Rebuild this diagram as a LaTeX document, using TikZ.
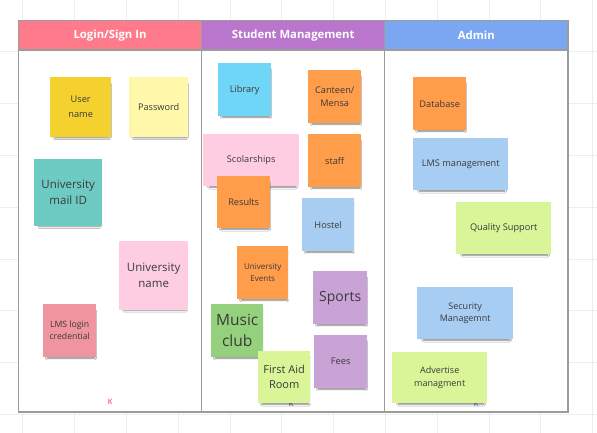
\documentclass[tikz,border=0pt]{standalone}
\usepackage{fontspec}
\setmainfont{Open Sans}
\usetikzlibrary{shadows.blur}

\definecolor{gridline}{HTML}{EDEDED}
\definecolor{framegray}{HTML}{9C9C9C}
\definecolor{notetext}{HTML}{3A3A3A}
\definecolor{hdrlogin}{HTML}{FF7B8C}
\definecolor{hdrstudent}{HTML}{BA76CC}
\definecolor{hdradmin}{HTML}{7BA7F2}
\definecolor{nyellow}{HTML}{F5D130}
\definecolor{nlightyellow}{HTML}{FFF8AA}
\definecolor{nteal}{HTML}{6ECBC3}
\definecolor{ncyan}{HTML}{6FD6F7}
\definecolor{npink}{HTML}{FFCDE1}
\definecolor{norange}{HTML}{FF9D4A}
\definecolor{nlightblue}{HTML}{A8CDF3}
\definecolor{npurple}{HTML}{C9A2D6}
\definecolor{ngreen}{HTML}{95D17D}
\definecolor{nlightgreen}{HTML}{D9F598}
\definecolor{nrose}{HTML}{F0959F}

\tikzset{
  note/.style={anchor=north west, inner sep=0pt, align=center,
    text=notetext, font=\fontsize{9.2}{12.5}\selectfont,
    blur shadow={shadow xshift=1.5pt, shadow yshift=-4pt,
      shadow scale=0.9, shadow blur radius=2pt, shadow opacity=50}},
  bigtext/.style={font=\fontsize{11.5}{16}\selectfont},
  header/.style={text=white, font=\bfseries\fontsize{11.3}{13}\selectfont},
  colmark/.style={font=\bfseries\fontsize{7.5}{8}\selectfont},
}

\begin{document}
\begin{tikzpicture}[x=1pt, y=-1pt]
\useasboundingbox (0,0) rectangle (597,433);
\fill[white] (0,0) rectangle (597,433);

% background grid
\foreach \k in {0,...,11} {
  \draw[gridline, line width=0.8pt] ({22.7+51.8*\k},0) -- ({22.7+51.8*\k},433);
}
\foreach \k in {1,...,8} {
  \draw[gridline, line width=0.8pt] (0,{51.8*\k}) -- (597,{51.8*\k});
}

% board frame with three columns
\fill[white] (18.3,20.7) rectangle (568,412);
\fill[hdrlogin] (18.3,20.7) rectangle (201.7,50);
\fill[hdrstudent] (201.7,20.7) rectangle (384.7,50);
\fill[hdradmin] (384.7,20.7) rectangle (568,50);
\node[header] (hlogin) at (110,35.5) {Login/Sign In};
\node[header] (hstudent) at (293.2,35.5) {Student Management};
\node[header] (hadmin) at (476.3,35.5) {Admin};
\draw[framegray, line width=1.5pt] (18.3,20.7) rectangle (568,412);
\draw[framegray, line width=1.5pt] (18.3,50) -- (568,50);
\draw[framegray, line width=1.5pt] (201.7,20.7) -- (201.7,412);
\draw[framegray, line width=1.5pt] (384.7,20.7) -- (384.7,412);

% column markers at the bottom
\node[colmark, text=hdrlogin] (klogin) at (110,402) {K};
\node[colmark, text=hdrstudent] (kstudent) at (291,404) {K};
\node[colmark, text=hdradmin] (kadmin) at (476,404) {K};

% Login / Sign In
\node[note, fill=nyellow, minimum width=61pt, minimum height=60pt,
  font=\fontsize{9.2}{15}\selectfont] (uname) at (50,77) {User\\name};
\node[note, fill=nlightyellow, minimum width=59pt, minimum height=60pt] (pwd) at (129,77) {Password};
\node[note, bigtext, fill=nteal, minimum width=68pt, minimum height=67pt] (mail) at (34,159) {University\\mail ID};
\node[note, bigtext, fill=npink, minimum width=69pt, minimum height=69pt] (uniname) at (119,241) {University\\name};
\node[note, fill=nrose, minimum width=53pt, minimum height=53pt,
  font=\fontsize{8.7}{12}\selectfont] (lmslogin) at (43,304) {LMS login\\credential};

% Student Management
\node[note, fill=ncyan, minimum width=53pt, minimum height=53pt] (library) at (218,63) {Library};
\node[note, fill=norange, minimum width=53pt, minimum height=53pt] (canteen) at (308,70) {Canteen/\\Mensa};
\node[note, fill=npink, minimum width=96pt, minimum height=52pt] (scol) at (203,134) {Scolarships};
\node[note, fill=norange, minimum width=53pt, minimum height=53pt] (staff) at (308,134) {staff};
\node[note, fill=norange, minimum width=53pt, minimum height=52pt] (results) at (217,176) {Results};
\node[note, fill=nlightblue, minimum width=52pt, minimum height=53pt] (hostel) at (302,198) {Hostel};
\node[note, fill=norange, minimum width=51pt, minimum height=53pt,
  font=\fontsize{8}{11.7}\selectfont] (events) at (237,246) {University\\Events};
\node[note, fill=npurple, minimum width=54pt, minimum height=53pt,
  font=\fontsize{14}{17}\selectfont] (sports) at (313,271) {Sports};
\node[note, fill=ngreen, minimum width=52pt, minimum height=53pt,
  font=\fontsize{15.5}{21}\selectfont] (music) at (211,304) {Music\\club};
\node[note, fill=npurple, minimum width=53pt, minimum height=53pt] (fees) at (314,335) {Fees};
\node[note, fill=nlightgreen, minimum width=52pt, minimum height=52pt,
  font=\fontsize{11}{15}\selectfont] (firstaid) at (258,351) {First Aid\\Room};

% Admin
\node[note, fill=norange, minimum width=53pt, minimum height=53pt] (database) at (413,77) {Database};
\node[note, fill=nlightblue, minimum width=95pt, minimum height=52pt] (lmsmgmt) at (413,138) {LMS management};
\node[note, fill=nlightgreen, minimum width=95pt, minimum height=52pt] (quality) at (456,202) {Quality Support};
\node[note, fill=nlightblue, minimum width=96pt, minimum height=52pt,
  font=\fontsize{9}{11.7}\selectfont] (security) at (417,287) {Security\\Managemnt};
\node[note, fill=nlightgreen, minimum width=95pt, minimum height=51pt,
  font=\fontsize{9}{13.3}\selectfont] (advertise) at (392,352) {Advertise\\managment};
\end{tikzpicture}
\end{document}
